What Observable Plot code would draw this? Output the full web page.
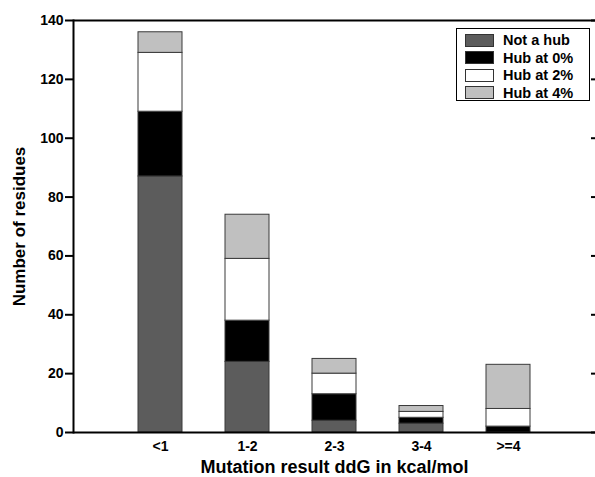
<!DOCTYPE html>
<html>
<head>
<meta charset="utf-8">
<script src="https://cdn.jsdelivr.net/npm/d3@7"></script>
<script src="https://cdn.jsdelivr.net/npm/@observablehq/plot@0.6"></script>
<style>
  html, body { margin: 0; padding: 0; background: #fff; overflow: hidden; }
  #wrap { position: relative; width: 595px; height: 477px; font-family: "Liberation Sans", Arial, sans-serif; font-weight: bold; }
  #legend { position: absolute; left: 456px; top: 28px; width: 134px; height: 73px; border: 1px solid #000; background: #fff; box-sizing: border-box; }
  .row { position: absolute; left: 8px; height: 14px; display: flex; align-items: center; font-size: 14.5px; color: #000; white-space: nowrap; }
  .sw { width: 29px; height: 13px; border: 1px solid #333; margin-right: 9px; box-sizing: border-box; }
</style>
</head>
<body>
<div id="wrap"><div id="legend"></div></div>
<script>
const categories = ["<1", "1-2", "2-3", "3-4", ">=4"];
const seriesNames = ["Not a hub", "Hub at 0%", "Hub at 2%", "Hub at 4%"];
const notHub = [87, 24, 4, 3, 0];
const hub0 = [22, 14, 9, 2, 2];
const hub2 = [20, 21, 7, 2, 6];
const hub4 = [7, 15, 5, 2, 15];
const seriesColors = ["#5c5c5c", "#000000", "#ffffff", "#c0c0c0"];
const yTicks = [0, 20, 40, 60, 80, 100, 120, 140];

const seriesValues = [notHub, hub0, hub2, hub4];
const data = [];
seriesNames.forEach((s, i) => categories.forEach((c, j) => data.push({cat: c, series: s, value: seriesValues[i][j]})));

const chart = Plot.plot({
  width: 595,
  height: 477,
  marginLeft: 73,
  marginRight: 0,
  marginTop: 20,
  marginBottom: 45,
  style: {fontFamily: "'Liberation Sans', Arial, sans-serif", fontWeight: "bold", fontSize: "14px", color: "#000", background: "#fff"},
  x: {domain: categories, paddingInner: 0.496, paddingOuter: 0.748, label: null},
  y: {domain: [0, 140], label: null},
  color: {domain: seriesNames, range: seriesColors},
  marks: [
    Plot.barY(data, {x: "cat", y: "value", fill: "series", stroke: "#3a3a3a", strokeWidth: 1, order: seriesNames}),
    Plot.ruleY([0, 140], {stroke: "#000", strokeWidth: 2}),
    Plot.frame({anchor: "left", stroke: "#000", strokeWidth: 2}),
    Plot.axisY({anchor: "left", ticks: yTicks, tickSize: 8, tickPadding: 2, strokeWidth: 2, fontSize: 14, label: null}),
    Plot.axisY({anchor: "right", ticks: yTicks, tickSize: 5, dx: -5, strokeWidth: 2, text: null, label: null}),
    Plot.axisX({anchor: "bottom", tickSize: 0, tickPadding: 9, fontSize: 14, label: null}),
    Plot.text(["Mutation result ddG in kcal/mol"], {frameAnchor: "bottom", dy: 35, lineAnchor: "middle", fontSize: 18, fontWeight: "bold"}),
    Plot.text(["Number of residues"], {frameAnchor: "left", dx: -54, rotate: -90, textAnchor: "middle", fontSize: 17, fontWeight: "bold"})
  ]
});
document.getElementById("wrap").prepend(chart);

const legend = document.getElementById("legend");
seriesNames.forEach((s, i) => {
  const row = document.createElement("div");
  row.className = "row";
  row.style.top = (4 + i * 17.5) + "px";
  const sw = document.createElement("div");
  sw.className = "sw";
  sw.style.background = seriesColors[i];
  row.appendChild(sw);
  row.appendChild(document.createTextNode(s));
  legend.appendChild(row);
});
</script>
</body>
</html>
